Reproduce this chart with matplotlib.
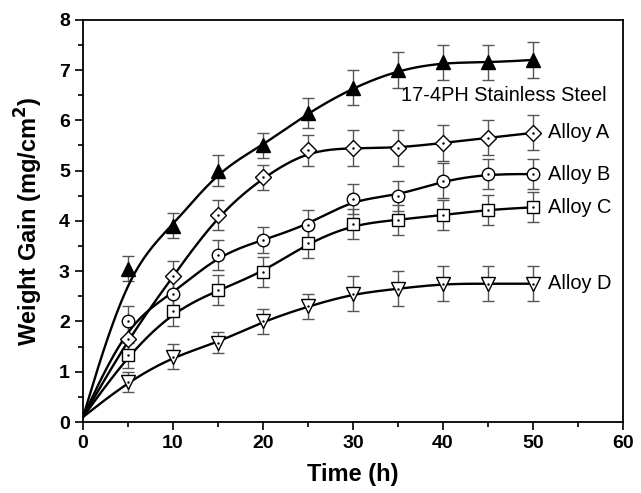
import numpy as np
import matplotlib
matplotlib.use('Agg')
import matplotlib.pyplot as plt

plt.rcParams['font.family'] = ['Liberation Sans', 'DejaVu Sans']

time_h = [5, 10, 15, 20, 25, 30, 35, 40, 45, 50]
start_gain = 0.1

ss_17_4ph = [3.05, 3.9, 5.0, 5.5, 6.15, 6.65, 7.0, 7.15, 7.15, 7.2]
ss_err = [0.25, 0.25, 0.3, 0.25, 0.3, 0.35, 0.35, 0.35, 0.35, 0.35]
alloy_a = [1.65, 2.9, 4.12, 4.87, 5.4, 5.45, 5.45, 5.55, 5.65, 5.75]
alloy_a_err = [0.35, 0.3, 0.3, 0.25, 0.3, 0.35, 0.35, 0.35, 0.35, 0.35]
alloy_b = [2.0, 2.55, 3.32, 3.62, 3.92, 4.43, 4.5, 4.8, 4.93, 4.93]
alloy_b_err = [0.3, 0.3, 0.3, 0.25, 0.3, 0.3, 0.3, 0.35, 0.3, 0.3]
alloy_c = [1.33, 2.2, 2.62, 2.98, 3.56, 3.93, 4.02, 4.12, 4.22, 4.27]
alloy_c_err = [0.25, 0.3, 0.3, 0.3, 0.3, 0.3, 0.3, 0.3, 0.3, 0.3]
alloy_d = [0.8, 1.3, 1.58, 2.0, 2.3, 2.55, 2.65, 2.75, 2.75, 2.75]
alloy_d_err = [0.2, 0.25, 0.2, 0.25, 0.25, 0.35, 0.35, 0.35, 0.35, 0.35]

labels = ['17-4PH Stainless Steel', 'Alloy A', 'Alloy B', 'Alloy C', 'Alloy D']


def bspline(x, y, n=40):
    # uniform cubic B-spline with the data as control points (clamped ends)
    p = np.column_stack([x, y]).astype(float)
    p = np.vstack([p[:1], p[:1], p, p[-1:], p[-1:]])
    u = np.linspace(0, 1, n, endpoint=False)
    b0 = (1 - u) ** 3 / 6
    b1 = (3 * u ** 3 - 6 * u ** 2 + 4) / 6
    b2 = (-3 * u ** 3 + 3 * u ** 2 + 3 * u + 1) / 6
    b3 = u ** 3 / 6
    out = []
    for i in range(len(p) - 3):
        seg = (np.outer(b0, p[i]) + np.outer(b1, p[i + 1])
               + np.outer(b2, p[i + 2]) + np.outer(b3, p[i + 3]))
        out.append(seg)
    out.append(p[-1:])
    out = np.vstack(out)
    return out[:, 0], out[:, 1]


fig = plt.figure(figsize=(6.41, 4.93), dpi=100)
ax = fig.add_axes([0.1295, 0.144, 0.8425, 0.816])

series = [
    (ss_17_4ph, ss_err, '^', 10, 'black'),
    (alloy_a, alloy_a_err, 'D', 8, 'white'),
    (alloy_b, alloy_b_err, 'o', 9, 'white'),
    (alloy_c, alloy_c_err, 's', 8, 'white'),
    (alloy_d, alloy_d_err, 'v', 10, 'white'),
]

for vals, err, mk, ms, fc in series:
    lx, ly = bspline([0] + time_h, [start_gain] + vals)
    ax.plot(lx, ly, color='black', lw=1.7, zorder=2)
    ax.errorbar(time_h, vals, yerr=err, fmt='none', ecolor='#555555',
                elinewidth=1.0, capsize=4, capthick=1.0, zorder=1)
    ax.plot(time_h, vals, ls='none', marker=mk, ms=ms, mfc=fc,
            mec='black', mew=1.0, zorder=3)
    if fc == 'white':
        ax.plot(time_h, vals, ls='none', marker='.', ms=1.5,
                color='black', zorder=4)

ax.text(35.3, 6.5, labels[0], fontsize=14.4, va='center', ha='left')
for lab, vals in zip(labels[1:], [alloy_a, alloy_b, alloy_c, alloy_d]):
    ax.text(51.7, vals[-1], lab, fontsize=14.4, va='center', ha='left')

ax.set_xlim(0, 60)
ax.set_ylim(0, 8)
ax.set_xticks(range(0, 61, 10))
ax.set_xticks(range(5, 60, 10), minor=True)
ax.set_yticks(range(0, 9))
ax.set_yticks(np.arange(0.5, 8, 1), minor=True)
ax.tick_params(which='major', direction='out', length=6, width=1.2,
               labelsize=14)
ax.tick_params(which='minor', direction='out', length=3.5, width=1.2)
for lab in ax.get_xticklabels() + ax.get_yticklabels():
    lab.set_fontweight('bold')
for sp in ax.spines.values():
    sp.set_linewidth(1.3)

ax.set_xlabel('Time (h)', fontsize=17, fontweight='bold', labelpad=8)
ax.set_ylabel('Weight Gain (mg/cm$^\\mathbf{2}$)', fontsize=17,
              fontweight='bold', labelpad=10)

fig.savefig('out.png', dpi=100)
